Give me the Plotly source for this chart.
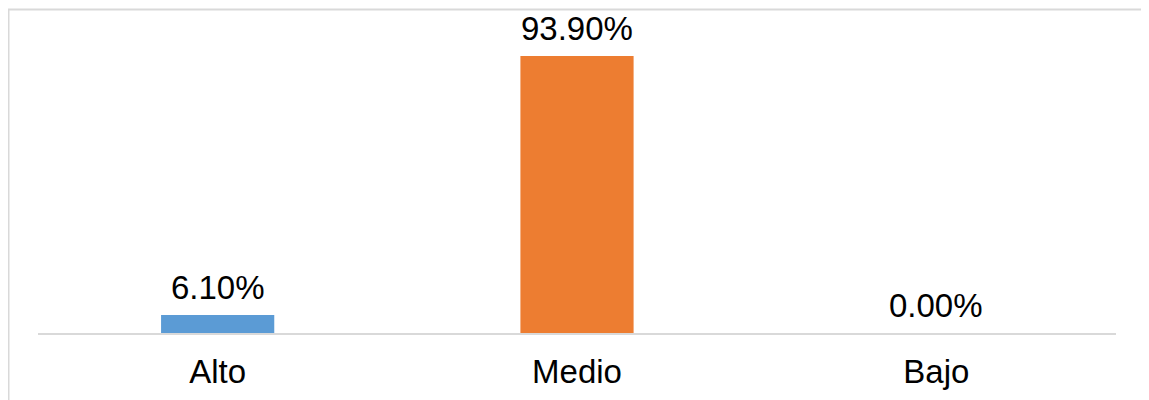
import plotly.graph_objects as go

categories = ["Alto", "Medio", "Bajo"]
values = [6.10, 93.90, 0.00]
labels = ["6.10%", "93.90%", "0.00%"]
colors = ["#5B9BD5", "#ED7D31", "#A5A5A5"]

# page has an 8px body margin; work in figure coordinates
OFF = 8
W, H = 1149, 400
L, R = 38 - OFF, 1116 - OFF
T, B = 38 - OFF, 333 - OFF
FONT = "Liberation Sans, Arial"
FS = 33

fig = go.Figure(go.Bar(
    x=categories, y=values,
    marker=dict(color=colors, line=dict(width=0)),
    width=0.315, hoverinfo="x+y",
))

for c, v, t in zip(categories, values, labels):
    fig.add_annotation(x=c, y=v, text=t, showarrow=False, yanchor="bottom",
                       yshift=7, font=dict(family=FONT, size=FS, color="#000000"))

def px(x):
    return (x - L) / (R - L)

def py(y):
    return (B - y) / (B - T)

fig.add_shape(type="rect", xref="paper", yref="paper",
              x0=px(0.5), x1=px(1137.5), y0=py(430), y1=py(1.5),
              line=dict(color="#d9d9d9", width=2), fillcolor="rgba(0,0,0,0)", layer="below")

fig.update_layout(
    width=W, height=H,
    margin=dict(l=L, r=W - R, t=T, b=H - B),
    paper_bgcolor="white", plot_bgcolor="white",
    showlegend=False,
    font=dict(family=FONT, size=FS, color="#000000"),
    xaxis=dict(showline=True, linecolor="#d9d9d9", linewidth=2, ticks="",
               showgrid=False, tickfont=dict(size=FS), ticklabelstandoff=8),
    yaxis=dict(range=[0, 100], visible=False, showgrid=False, zeroline=False),
)

fig.write_html("out.html")
